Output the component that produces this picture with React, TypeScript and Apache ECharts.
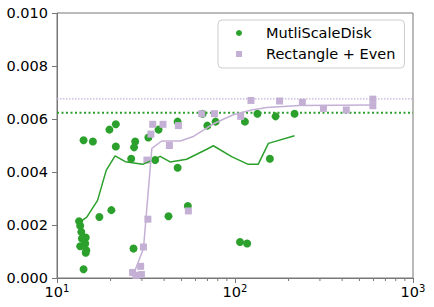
import React, { useEffect, useRef } from "react";
import * as echarts from "echarts";

const greenX = [13.3, 13.5, 13.7, 13.8, 14.5, 13.5, 14.4, 14.6, 14.5, 14.1, 14.1, 15.9, 17.3, 19.7, 21.4, 21.4, 20.2, 26.1, 27.5, 27.1, 26.9, 32.6, 37.2, 35.6, 47.6, 47.6, 42.3, 54.3, 65.8, 69.9, 77.8, 106.7, 117, 113.7, 133.7, 169, 157, 216];
const greenY = [0.00214, 0.00197, 0.00174, 0.00149, 0.00153, 0.0012, 0.0013, 0.00105, 0.00095, 0.00033, 0.0052, 0.00515, 0.0023, 0.0056, 0.0058, 0.00496, 0.00256, 0.0045, 0.00515, 0.00493, 0.00111, 0.0053, 0.0056, 0.00445, 0.0059, 0.00416, 0.00233, 0.00272, 0.0062, 0.00575, 0.0059, 0.00136, 0.0013, 0.0059, 0.0062, 0.0061, 0.0045, 0.0062];

const purpleX = [26.6, 27.8, 29.8, 29.5, 30.6, 32.4, 32.0, 33.7, 34.5, 39.4, 42.8, 48.1, 54.7, 65.0, 76.6, 107.6, 123, 178, 239, 314, 422, 595, 595];
const purpleY = [0.00021, 0.0001, 0.00013, 0.00044, 0.00117, 0.00222, 0.00445, 0.00543, 0.0058, 0.0058, 0.005, 0.00575, 0.00253, 0.0062, 0.0062, 0.0061, 0.0067, 0.00668, 0.00663, 0.0064, 0.00634, 0.00675, 0.0065];

const gLineX = [13.5, 14.7, 16.9, 18.9, 21.2, 24.2, 30.3, 34.1, 38.0, 43.2, 53.5, 69.4, 75.6, 95.7, 118.6, 135, 154, 216];
const gLineY = [0.00212, 0.0023, 0.00293, 0.00406, 0.00461, 0.00439, 0.00429, 0.00444, 0.00459, 0.00438, 0.00448, 0.00486, 0.00499, 0.00458, 0.00429, 0.00429, 0.00508, 0.00537];

const pLineX = [26.6, 30.6, 34.1, 38.8, 49.2, 58.4, 75.6, 97.9, 123.9, 150.6, 231, 595];
const pLineY = [0.00006, 0.00111, 0.00489, 0.00517, 0.00517, 0.00534, 0.00582, 0.00616, 0.00634, 0.00643, 0.00651, 0.00653];

const greenRef = 0.00624;
const purpleRef = 0.00676;
const xRange = [10, 1000];

const minorTickValues = [20, 30, 40, 50, 60, 70, 80, 90, 200, 300, 400, 500, 600, 700, 800, 900];

const seriesNames = ["MutliScaleDisk", "Rectangle + Even"];

const GREEN = "#2ca02c";
const PURPLE = "#c5b0d5";
const AXIS = "#777";
const FONT = "DejaVu Sans";

const zip = (xs: number[], ys: number[]) => xs.map((x, i) => [x, ys[i]]);

export default function App() {
  const ref = useRef<HTMLDivElement>(null);
  useEffect(() => {
    if (!ref.current) return;
    const chart = echarts.init(ref.current, undefined, { renderer: "svg" });
    chart.setOption({
      animation: false,
      backgroundColor: "#fff",
      grid: {
        left: 57,
        right: 21,
        top: 13,
        bottom: 29,
        show: true,
        borderColor: AXIS,
        borderWidth: 1,
        backgroundColor: "transparent",
      },
      legend: {
        data: [
          { name: seriesNames[0], icon: "circle" },
          { name: seriesNames[1], icon: "rect" },
        ],
        orient: "vertical",
        left: 218,
        top: 20,
        itemWidth: 6,
        itemHeight: 6,
        itemGap: 3,
        padding: [4, 9, 5, 18],
        backgroundColor: "#fff",
        borderColor: "#ccc",
        borderWidth: 1,
        borderRadius: 4,
        textStyle: {
          fontFamily: FONT,
          fontSize: 14.5,
          color: "#000",
          lineHeight: 18,
          padding: [0, 0, 0, 19],
        },
      },
      xAxis: {
        type: "log",
        logBase: 10,
        min: xRange[0],
        max: xRange[1],
        axisLine: { show: true, lineStyle: { color: AXIS, width: 1 } },
        axisTick: { show: true, length: 5, lineStyle: { color: AXIS, width: 1 } },
        splitLine: { show: false },
        axisLabel: {
          margin: 5,
          color: "#000",
          fontFamily: FONT,
          formatter: (v: number) => `{b|10}{s|${Math.round(Math.log10(v))}}`,
          rich: {
            b: { fontFamily: FONT, fontSize: 14.5, color: "#000", lineHeight: 17 },
            s: { fontFamily: FONT, fontSize: 10, color: "#000", verticalAlign: "top", lineHeight: 11 },
          },
        },
      },
      yAxis: {
        type: "value",
        min: 0,
        max: 0.01,
        interval: 0.002,
        axisLine: { show: true, lineStyle: { color: AXIS, width: 1 } },
        axisTick: { show: true, length: 5, lineStyle: { color: AXIS, width: 1 } },
        splitLine: { show: false },
        axisLabel: {
          margin: 9,
          color: "#000",
          fontFamily: FONT,
          fontSize: 14.5,
          formatter: (v: number) => v.toFixed(3),
        },
      },
      series: [
        {
          name: "green-ref",
          type: "line",
          symbol: "none",
          showSymbol: false,
          silent: true,
          lineStyle: { color: GREEN, width: 2, type: [2, 2.5] },
          data: xRange.map((x) => [x, greenRef]),
          z: 1,
        },
        {
          name: "purple-ref",
          type: "line",
          symbol: "none",
          showSymbol: false,
          silent: true,
          lineStyle: { color: PURPLE, width: 1.2, type: [1.5, 1.5] },
          data: xRange.map((x) => [x, purpleRef]),
          z: 1,
        },
        {
          name: seriesNames[0],
          type: "scatter",
          symbol: "circle",
          symbolSize: 8,
          itemStyle: { color: GREEN, opacity: 1 },
          data: zip(greenX, greenY),
          z: 2,
        },
        {
          name: seriesNames[1],
          type: "scatter",
          symbol: "rect",
          symbolSize: 7,
          itemStyle: { color: PURPLE, opacity: 1 },
          data: zip(purpleX, purpleY),
          z: 3,
        },
        {
          name: "green-trend",
          type: "line",
          showSymbol: false,
          symbol: "none",
          lineStyle: { color: GREEN, width: 1.5 },
          data: zip(gLineX, gLineY),
          z: 4,
        },
        {
          name: "purple-trend",
          type: "line",
          showSymbol: false,
          symbol: "none",
          lineStyle: { color: PURPLE, width: 1.5 },
          data: zip(pLineX, pLineY),
          z: 5,
        },
        {
          name: "minor-ticks",
          type: "custom",
          silent: true,
          clip: false,
          data: minorTickValues.map((v) => [v, 0]),
          renderItem: (params: any, api: any) => {
            const p = api.coord([api.value(0), 0]);
            return {
              type: "line",
              shape: { x1: p[0], y1: p[1], x2: p[0], y2: p[1] + 3 },
              style: { stroke: AXIS, lineWidth: 1 },
            };
          },
        },
      ],
    });
    return () => chart.dispose();
  }, []);
  return (
    <div
      ref={ref}
      style={{ position: "fixed", left: 0, top: 0, width: 434, height: 307 }}
    />
  );
}
